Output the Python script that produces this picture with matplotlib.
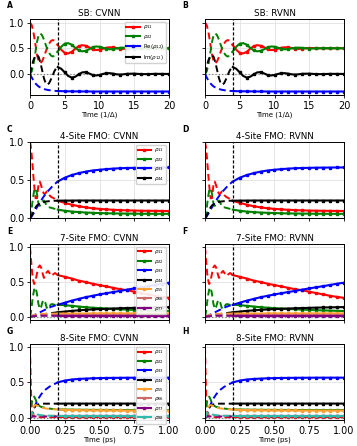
import numpy as np
import matplotlib.pyplot as plt

# ---- spin-boson (A, B) ----
t_sb = [0, 0.25, 0.5, 0.75, 1, 1.25, 1.5, 1.75, 2, 2.25, 2.5, 2.75, 3, 3.25, 3.5, 3.75, 4,
        4.5, 5, 5.5, 6, 6.5, 7, 7.5, 8, 8.5, 9, 9.5, 10, 10.5, 11, 11.5, 12, 12.5, 13, 13.5, 14,
        15, 16, 17, 18, 19, 20]
sb_rho11 = [1.00, 0.95, 0.81, 0.60, 0.38, 0.24, 0.21, 0.25, 0.33, 0.43, 0.52, 0.59, 0.64, 0.66, 0.65, 0.61, 0.56,
            0.47, 0.41, 0.40, 0.43, 0.49, 0.54, 0.56, 0.55, 0.52, 0.48, 0.465, 0.47, 0.49, 0.51, 0.52, 0.515, 0.50, 0.49, 0.488, 0.493,
            0.505, 0.504, 0.497, 0.499, 0.501, 0.50]
sb_rho22 = [0.00, 0.05, 0.19, 0.40, 0.62, 0.76, 0.79, 0.75, 0.67, 0.57, 0.48, 0.41, 0.36, 0.34, 0.35, 0.39, 0.44,
            0.53, 0.59, 0.60, 0.57, 0.51, 0.46, 0.44, 0.45, 0.48, 0.52, 0.535, 0.53, 0.51, 0.49, 0.48, 0.485, 0.50, 0.51, 0.512, 0.507,
            0.495, 0.496, 0.503, 0.501, 0.499, 0.50]
sb_re12 = [0.0, -0.07, -0.13, -0.18, -0.215, -0.245, -0.265, -0.28, -0.293, -0.303, -0.31, -0.316, -0.321, -0.325, -0.328, -0.331, -0.333,
           -0.335, -0.337, -0.338, -0.339, -0.34, -0.34, -0.341, -0.341, -0.341, -0.342, -0.342, -0.342, -0.342, -0.342, -0.342, -0.342, -0.342, -0.342, -0.342, -0.342,
           -0.342, -0.342, -0.342, -0.342, -0.342, -0.342]
sb_im12 = [0.0, 0.15, 0.27, 0.34, 0.37, 0.33, 0.22, 0.07, -0.08, -0.18, -0.21, -0.18, -0.11, -0.03, 0.05, 0.11, 0.135,
           0.10, 0.03, -0.04, -0.07, -0.055, -0.01, 0.03, 0.035, 0.01, -0.02, -0.03, -0.02, 0.0, 0.015, 0.015, 0.005, -0.008, -0.012, -0.006, 0.003,
           0.006, -0.003, -0.003, 0.002, 0.001, 0.0]

# ---- FMO (C - H), time in ps ----
t_fmo = [0, 0.005, 0.01, 0.015, 0.02, 0.03, 0.04, 0.05, 0.06, 0.07, 0.08, 0.09, 0.10, 0.11, 0.12, 0.13, 0.14, 0.15, 0.16, 0.18, 0.20,
         0.25, 0.30, 0.35, 0.40, 0.45, 0.50, 0.55, 0.60, 0.65, 0.70, 0.75, 0.80, 0.85, 0.90, 0.95, 1.00]

# 4-site
f4_rho11 = [1.0, 0.95, 0.87, 0.77, 0.65, 0.43, 0.26, 0.26, 0.42, 0.48, 0.43, 0.36, 0.32, 0.32, 0.35, 0.33, 0.30, 0.28, 0.27, 0.25, 0.225,
            0.20, 0.175, 0.155, 0.14, 0.128, 0.12, 0.113, 0.108, 0.104, 0.10, 0.098, 0.096, 0.095, 0.094, 0.093, 0.092]
f4_rho22 = [0.0, 0.03, 0.09, 0.17, 0.25, 0.36, 0.39, 0.32, 0.20, 0.16, 0.18, 0.22, 0.23, 0.20, 0.16, 0.14, 0.14, 0.135, 0.13, 0.12, 0.11,
            0.095, 0.085, 0.078, 0.072, 0.068, 0.065, 0.062, 0.06, 0.059, 0.058, 0.057, 0.056, 0.056, 0.055, 0.055, 0.055]
f4_rho33 = [0.0, 0.005, 0.015, 0.03, 0.045, 0.075, 0.11, 0.14, 0.17, 0.20, 0.23, 0.26, 0.285, 0.31, 0.33, 0.355, 0.375, 0.395, 0.415, 0.45, 0.48,
            0.53, 0.565, 0.59, 0.61, 0.625, 0.635, 0.643, 0.65, 0.655, 0.658, 0.66, 0.662, 0.663, 0.664, 0.665, 0.665]
f4_rho44 = [0.0, 0.01, 0.025, 0.04, 0.06, 0.10, 0.14, 0.165, 0.18, 0.19, 0.20, 0.205, 0.21, 0.215, 0.218, 0.22, 0.222, 0.224, 0.225, 0.227, 0.228,
            0.229, 0.229, 0.23, 0.23, 0.23, 0.23, 0.23, 0.23, 0.23, 0.23, 0.23, 0.23, 0.23, 0.23, 0.23, 0.23]

# 7-site
f7_rho11 = [1.0, 0.88, 0.76, 0.64, 0.55, 0.47, 0.52, 0.62, 0.71, 0.74, 0.71, 0.63, 0.56, 0.58, 0.64, 0.66, 0.63, 0.59, 0.60, 0.63, 0.60,
            0.575, 0.55, 0.52, 0.50, 0.475, 0.455, 0.435, 0.415, 0.395, 0.38, 0.36, 0.34, 0.32, 0.30, 0.285, 0.27]
f7_rho22 = [0.0, 0.04, 0.11, 0.20, 0.28, 0.39, 0.42, 0.33, 0.19, 0.11, 0.14, 0.21, 0.24, 0.20, 0.13, 0.11, 0.14, 0.175, 0.18, 0.17, 0.17,
            0.165, 0.155, 0.145, 0.135, 0.128, 0.122, 0.116, 0.11, 0.105, 0.10, 0.096, 0.092, 0.089, 0.086, 0.083, 0.08]
f7_rho33 = [0.0, 0.002, 0.005, 0.008, 0.012, 0.02, 0.03, 0.04, 0.05, 0.06, 0.07, 0.08, 0.09, 0.10, 0.11, 0.12, 0.13, 0.14, 0.145, 0.16, 0.17,
            0.20, 0.23, 0.255, 0.28, 0.30, 0.32, 0.338, 0.355, 0.372, 0.39, 0.407, 0.424, 0.44, 0.457, 0.475, 0.49]
f7_rho44 = [0.0, 0.0, 0.001, 0.002, 0.003, 0.006, 0.01, 0.014, 0.018, 0.022, 0.026, 0.03, 0.034, 0.037, 0.04, 0.043, 0.046, 0.049, 0.052, 0.057, 0.062,
            0.072, 0.082, 0.09, 0.097, 0.103, 0.108, 0.112, 0.116, 0.12, 0.123, 0.126, 0.129, 0.131, 0.133, 0.135, 0.137]
f7_rho55 = [0.0, 0.002, 0.006, 0.01, 0.015, 0.022, 0.028, 0.032, 0.035, 0.037, 0.038, 0.039, 0.04, 0.04, 0.041, 0.041, 0.042, 0.042, 0.042, 0.043, 0.043,
            0.043, 0.044, 0.044, 0.044, 0.045, 0.045, 0.045, 0.045, 0.045, 0.045, 0.045, 0.045, 0.045, 0.045, 0.045, 0.045]
f7_rho66 = [0.0, 0.001, 0.003, 0.006, 0.009, 0.014, 0.018, 0.021, 0.023, 0.024, 0.025, 0.025, 0.025, 0.025, 0.025, 0.025, 0.025, 0.025, 0.025, 0.025, 0.025,
            0.025, 0.025, 0.025, 0.025, 0.025, 0.025, 0.025, 0.025, 0.025, 0.025, 0.025, 0.025, 0.025, 0.025, 0.025, 0.025]
f7_rho77 = [0.0, 0.0, 0.001, 0.002, 0.003, 0.005, 0.007, 0.008, 0.009, 0.01, 0.01, 0.01, 0.01, 0.01, 0.01, 0.01, 0.01, 0.01, 0.01, 0.01, 0.01,
            0.01, 0.01, 0.01, 0.01, 0.01, 0.01, 0.01, 0.01, 0.01, 0.01, 0.01, 0.01, 0.01, 0.01, 0.01, 0.01]

# 8-site
f8_rho11 = [1.0, 0.55, 0.20, 0.08, 0.04, 0.02, 0.015, 0.012, 0.01, 0.01, 0.01, 0.01, 0.01, 0.01, 0.01, 0.01, 0.01, 0.01, 0.01, 0.01, 0.01,
            0.01, 0.01, 0.01, 0.01, 0.01, 0.01, 0.01, 0.01, 0.01, 0.01, 0.01, 0.01, 0.01, 0.01, 0.01, 0.01]
f8_rho22 = [0.0, 0.08, 0.17, 0.24, 0.28, 0.30, 0.26, 0.21, 0.18, 0.165, 0.155, 0.15, 0.145, 0.14, 0.137, 0.134, 0.131, 0.128, 0.126, 0.122, 0.12,
            0.117, 0.115, 0.114, 0.113, 0.112, 0.112, 0.111, 0.111, 0.11, 0.11, 0.11, 0.11, 0.11, 0.11, 0.11, 0.11]
f8_rho33 = [0.0, 0.01, 0.03, 0.06, 0.09, 0.14, 0.19, 0.23, 0.27, 0.30, 0.33, 0.355, 0.375, 0.395, 0.41, 0.425, 0.44, 0.45, 0.46, 0.48, 0.50,
            0.525, 0.54, 0.548, 0.553, 0.557, 0.56, 0.562, 0.563, 0.564, 0.565, 0.565, 0.566, 0.566, 0.566, 0.566, 0.566]
f8_rho44 = [0.0, 0.01, 0.03, 0.06, 0.09, 0.14, 0.17, 0.185, 0.19, 0.195, 0.198, 0.20, 0.20, 0.20, 0.20, 0.20, 0.20, 0.20, 0.20, 0.20, 0.20,
            0.201, 0.201, 0.201, 0.201, 0.201, 0.201, 0.201, 0.201, 0.201, 0.201, 0.201, 0.201, 0.201, 0.201, 0.201, 0.201]
f8_rho55 = [0.0, 0.02, 0.06, 0.10, 0.13, 0.17, 0.18, 0.175, 0.165, 0.155, 0.148, 0.142, 0.137, 0.133, 0.13, 0.128, 0.126, 0.124, 0.122, 0.12, 0.118,
            0.113, 0.11, 0.108, 0.106, 0.105, 0.105, 0.104, 0.104, 0.104, 0.103, 0.103, 0.103, 0.103, 0.103, 0.103, 0.103]
f8_rho66 = [0.0, 0.02, 0.04, 0.05, 0.055, 0.05, 0.045, 0.04, 0.036, 0.033, 0.031, 0.03, 0.03, 0.029, 0.029, 0.029, 0.028, 0.028, 0.028, 0.028, 0.028,
            0.028, 0.028, 0.028, 0.028, 0.028, 0.028, 0.028, 0.028, 0.028, 0.028, 0.028, 0.028, 0.028, 0.028, 0.028, 0.028]
f8_rho77 = [0.0, 0.005, 0.01, 0.015, 0.018, 0.02, 0.02, 0.02, 0.02, 0.02, 0.02, 0.02, 0.02, 0.02, 0.02, 0.02, 0.02, 0.02, 0.02, 0.02, 0.02,
            0.02, 0.02, 0.02, 0.02, 0.02, 0.02, 0.02, 0.02, 0.02, 0.02, 0.02, 0.02, 0.02, 0.02, 0.02, 0.02]
f8_rho88 = [0.0, 0.02, 0.05, 0.07, 0.075, 0.07, 0.06, 0.05, 0.045, 0.04, 0.038, 0.036, 0.034, 0.033, 0.032, 0.031, 0.03, 0.03, 0.03, 0.03, 0.03,
            0.03, 0.03, 0.03, 0.03, 0.03, 0.03, 0.03, 0.03, 0.03, 0.03, 0.03, 0.03, 0.03, 0.03, 0.03, 0.03]

sb_labels = [r'$\rho_{11}$', r'$\rho_{22}$', r'Re($\rho_{12}$)', r'Im($\rho_{12}$)']
site_labels = [r'$\rho_{%d%d}$' % (i, i) for i in range(1, 9)]
colors = ['red', 'green', 'blue', 'black', '#ffa030', '#cd6a6a', 'purple', '#30b8a8']

t_cut_sb = 4.0
t_cut_fmo = 0.2

W, H = 357, 446
fig = plt.figure(figsize=(W / 100, H / 100), dpi=100)


def px_axes(x, y, w, h):
    return fig.add_axes([x / W, 1 - (y + h) / H, w / W, h / H])


def draw(ax, t, series, labels, t_cut, legend, mark_int=False):
    t = np.asarray(t, dtype=float)
    early = t <= t_cut + 1e-9
    late = t >= t_cut - 1e-9
    tl = t[late]
    if mark_int:
        marks = list(np.where(np.isclose(tl % 1, 0) & (tl > t_cut))[0])
    else:
        marks = list(np.where(tl > t_cut)[0])
    ax.axhline(0, color='gray', ls=':', lw=0.9, zorder=1)
    handles = []
    for y, c in zip(series, colors):
        y = np.asarray(y)
        ax.plot(t[early], y[early], '--', color=c, lw=1.4, dashes=(3.5, 2))
        h, = ax.plot(tl, y[late], '-', color=c, lw=1.5, marker='s', ms=1.9,
                     markevery=marks)
        handles.append(h)
    ax.axvline(t_cut, color='black', ls='--', lw=0.9, dashes=(2.5, 1.5))
    ax.grid(True, color='#e2e2e2', lw=0.6)
    ax.set_axisbelow(True)
    for s in ax.spines.values():
        s.set_linewidth(0.7)
    ax.tick_params(labelsize=7, length=2.5, width=0.6, pad=1.5)
    if legend:
        ax.legend(handles, labels, loc='upper right', fontsize=4, handlelength=2.4,
                  borderpad=0.3, labelspacing=0.25, handletextpad=0.6,
                  framealpha=0.9, edgecolor='#cccccc')


row_top = [19, 142, 244, 344]
col_left = [30, 205]
aw, ah = 139, 76
letters = ['A', 'B', 'C', 'D', 'E', 'F', 'G', 'H']
titles = ['SB: CVNN', 'SB: RVNN', '4-Site FMO: CVNN', '4-Site FMO: RVNN',
          '7-Site FMO: CVNN', '7-Site FMO: RVNN', '8-Site FMO: CVNN', '8-Site FMO: RVNN']

sb_series = [sb_rho11, sb_rho22, sb_re12, sb_im12]
f4_series = [f4_rho11, f4_rho22, f4_rho33, f4_rho44]
f7_series = [f7_rho11, f7_rho22, f7_rho33, f7_rho44, f7_rho55, f7_rho66, f7_rho77]
f8_series = [f8_rho11, f8_rho22, f8_rho33, f8_rho44, f8_rho55, f8_rho66, f8_rho77, f8_rho88]

for r in range(4):
    for c in range(2):
        i = 2 * r + c
        ax = px_axes(col_left[c], row_top[r], aw, ah)
        if r == 0:
            draw(ax, t_sb, sb_series, sb_labels, t_cut_sb, c == 0, mark_int=True)
            ax.set_xlim(0, 20)
            ax.set_xticks([0, 5, 10, 15, 20])
            ax.set_ylim(-0.41, 1.07)
            ax.set_xlabel('Time (1/Δ)', fontsize=5, labelpad=1)
        else:
            series = [f4_series, f7_series, f8_series][r - 1]
            draw(ax, t_fmo, series, site_labels[:len(series)], t_cut_fmo, c == 0)
            ax.set_xlim(0, 1)
            ax.set_xticks([0, 0.25, 0.5, 0.75, 1.0])
            ax.set_ylim([(0, 1.0), (-0.05, 1.05), (-0.03, 1.04)][r - 1])
            if r == 3:
                ax.set_xlabel('Time (ps)', fontsize=5, labelpad=1)
            else:
                ax.tick_params(labelbottom=False)
        ax.set_yticks([0.0, 0.5, 1.0])
        if c == 1:
            ax.tick_params(labelleft=False)
        ax.set_title(titles[i], fontsize=6.3, pad=2)
        fig.text((col_left[c] - 23) / W, 1 - (row_top[r] - 13) / H, letters[i],
                 fontsize=5.5, fontweight='bold', va='center', ha='left')

fig.savefig('out.png', dpi=100)
